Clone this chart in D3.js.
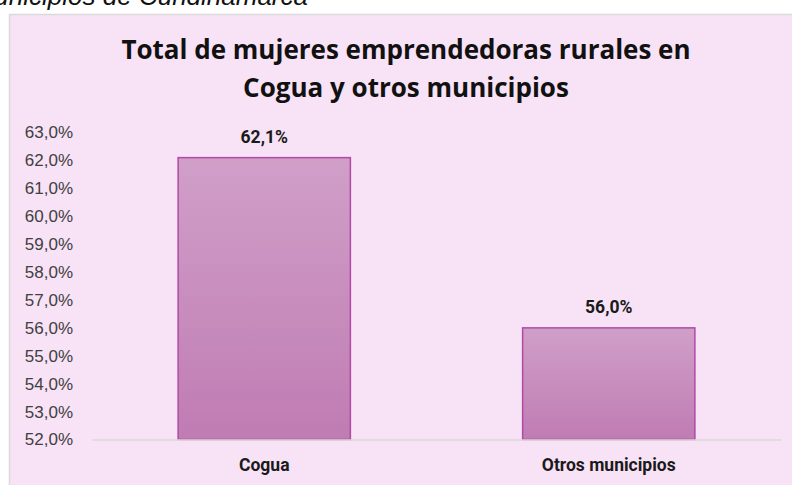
<!DOCTYPE html>
<html><head><meta charset="utf-8">
<script src="https://cdn.jsdelivr.net/npm/d3@7"></script>
<style>html,body{margin:0;padding:0;background:#fff;overflow:hidden}</style>
</head><body>
<script>
const categories = ["Cogua", "Otros municipios"];
const values = [62.1, 56.0];
const yTicks = [52, 53, 54, 55, 56, 57, 58, 59, 60, 61, 62, 63];
const titleLines = ["Total de mujeres emprendedoras rurales en", "Cogua y otros municipios"];
const headerText = "Municipios de Cundinamarca";

const W = 792, H = 485;
const svg = d3.select("body").append("svg").attr("width", W).attr("height", H);
const fmt = v => d3.format(".1f")(v).replace(".", ",") + "%";

const defs = svg.append("defs");
const g = defs.append("linearGradient").attr("id", "barGrad").attr("x1", 0).attr("y1", 0).attr("x2", 0).attr("y2", 1);
g.append("stop").attr("offset", "0%").attr("stop-color", "#D09FC8");
g.append("stop").attr("offset", "100%").attr("stop-color", "#C07CB3");

svg.append("text").attr("x", 308).attr("y", 5).attr("text-anchor", "end")
  .attr("font-family", "Liberation Sans, Arial, sans-serif").attr("font-style", "italic")
  .attr("font-size", 26).attr("fill", "#111").text(headerText);

svg.append("rect").attr("x", 9.5).attr("y", 14.5).attr("width", 800).attr("height", 500)
  .attr("fill", "#F8E2F6").attr("stroke", "#D9D9D9").attr("stroke-width", 1.5);

const title = svg.append("text").attr("text-anchor", "middle")
  .attr("font-family", "Open Sans, sans-serif").attr("font-weight", 700)
  .attr("font-size", 26).attr("fill", "#111");
titleLines.forEach((t, i) => title.append("tspan").attr("x", 406).attr("y", 59 + i * 38).text(t));

const x = d3.scaleBand().domain(categories).range([92, 781]).paddingInner(0.5).paddingOuter(0.25);
const y = d3.scaleLinear().domain([52, 63]).range([439.5, 132.5]);

const yAxis = svg.append("g").attr("transform", "translate(76,0)")
  .call(d3.axisLeft(y).tickValues(yTicks).tickFormat(fmt).tickSize(0).tickPadding(3));
yAxis.select(".domain").remove();
yAxis.selectAll("text").attr("font-family", "Liberation Sans, Arial, sans-serif")
  .attr("font-size", 17).attr("fill", "#404040");

svg.selectAll("rect.bar").data(values).join("rect").attr("class", "bar")
  .attr("x", (d, i) => x(categories[i])).attr("width", x.bandwidth())
  .attr("y", d => y(d)).attr("height", d => y(52) - y(d))
  .attr("fill", "url(#barGrad)").attr("stroke", "#B04AA6").attr("stroke-width", 1.5);

const xAxis = svg.append("g").attr("transform", "translate(0,439.5)")
  .call(d3.axisBottom(x).tickSize(0).tickPadding(19));
xAxis.select(".domain").attr("stroke", "#D9D9D9").attr("stroke-width", 1.5);
xAxis.selectAll("text").attr("font-family", "Roboto, sans-serif").attr("font-weight", 700)
  .attr("font-size", 17.5).attr("fill", "#1a1a1a");

svg.selectAll("text.lbl").data(values).join("text").attr("class", "lbl")
  .attr("x", (d, i) => x(categories[i]) + x.bandwidth() / 2).attr("y", d => y(d) - 14.5)
  .attr("text-anchor", "middle").attr("font-family", "Roboto, sans-serif").attr("font-weight", 700)
  .attr("font-size", 17.5).attr("fill", "#1a1a1a").text(fmt);
</script>
</body></html>
